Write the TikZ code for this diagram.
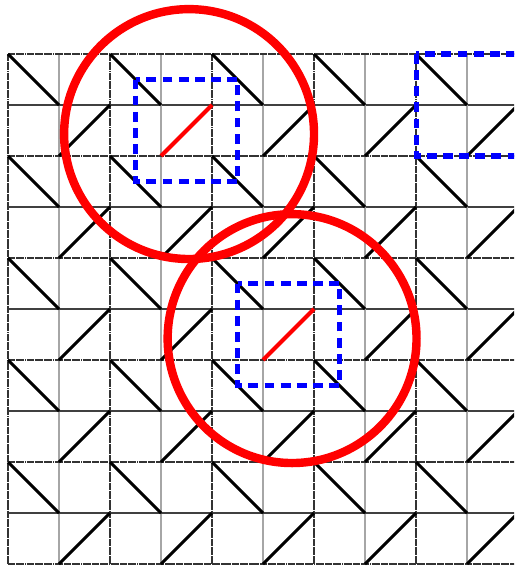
\documentclass[tikz,border=0pt]{standalone}
\usepackage{tikz}
\usetikzlibrary{calc}

\begin{document}
\begin{tikzpicture}[
    gridminorv/.style={gray!70, line width=0.6pt},
    gridminorh/.style={black!75, line width=0.6pt},
    gridmajor/.style={black!80, line width=0.6pt, dash pattern=on 4pt off 0.4pt on 0.4pt off 0.4pt},
    diag/.style={black, line width=1.7pt},
    hilite/.style={red, line width=2.2pt},
    window/.style={blue, line width=2.8pt, dash pattern=on 5.5pt off 3.5pt},
    ring/.style={red, line width=4.7pt}
]

% Page frame - same proportions as the reference
\useasboundingbox (-0.157,1.059) rectangle (9.922,-10.078);
\clip (-0.157,1.059) rectangle (9.922,-10.078);

% Grid - thin solid lines between the 2x2 blocks
\foreach \i in {1,3,...,9} {
    \draw[gridminorv] (\i,0) -- (\i,-10);
    \draw[gridminorh] (0,-\i) -- (10,-\i);
}
% Grid - dashed block borders
\foreach \i in {0,2,...,10} {
    \draw[gridmajor] (\i,0) -- (\i,-10);
    \draw[gridmajor] (0,-\i) -- (10,-\i);
}

% Diagonals - one per 2x2 block corner
\foreach \a in {0,2,...,8} {
    \foreach \b in {0,2,...,8} {
        \draw[diag] (\a,-\b) -- ++(1,-1);
        \draw[diag] (\a+1,-\b-2) -- ++(1,1);
    }
}

% Highlighted cells
\draw[hilite] (3,-2) -- (4,-1);
\draw[hilite] (5,-6) -- (6,-5);

% Dashed windows
\draw[window] (2.5,-0.5) rectangle (4.5,-2.5);
\draw[window] (4.5,-4.5) rectangle (6.5,-6.5);
\draw[window] (8,0) rectangle (10.3,-2);

% Circles round the highlighted cells
\coordinate (ringA) at (3.55,-1.57);
\coordinate (ringB) at (5.57,-5.58);
\draw[ring] (ringA) circle (2.45);
\draw[ring] (ringB) circle (2.44);

\end{tikzpicture}
\end{document}
